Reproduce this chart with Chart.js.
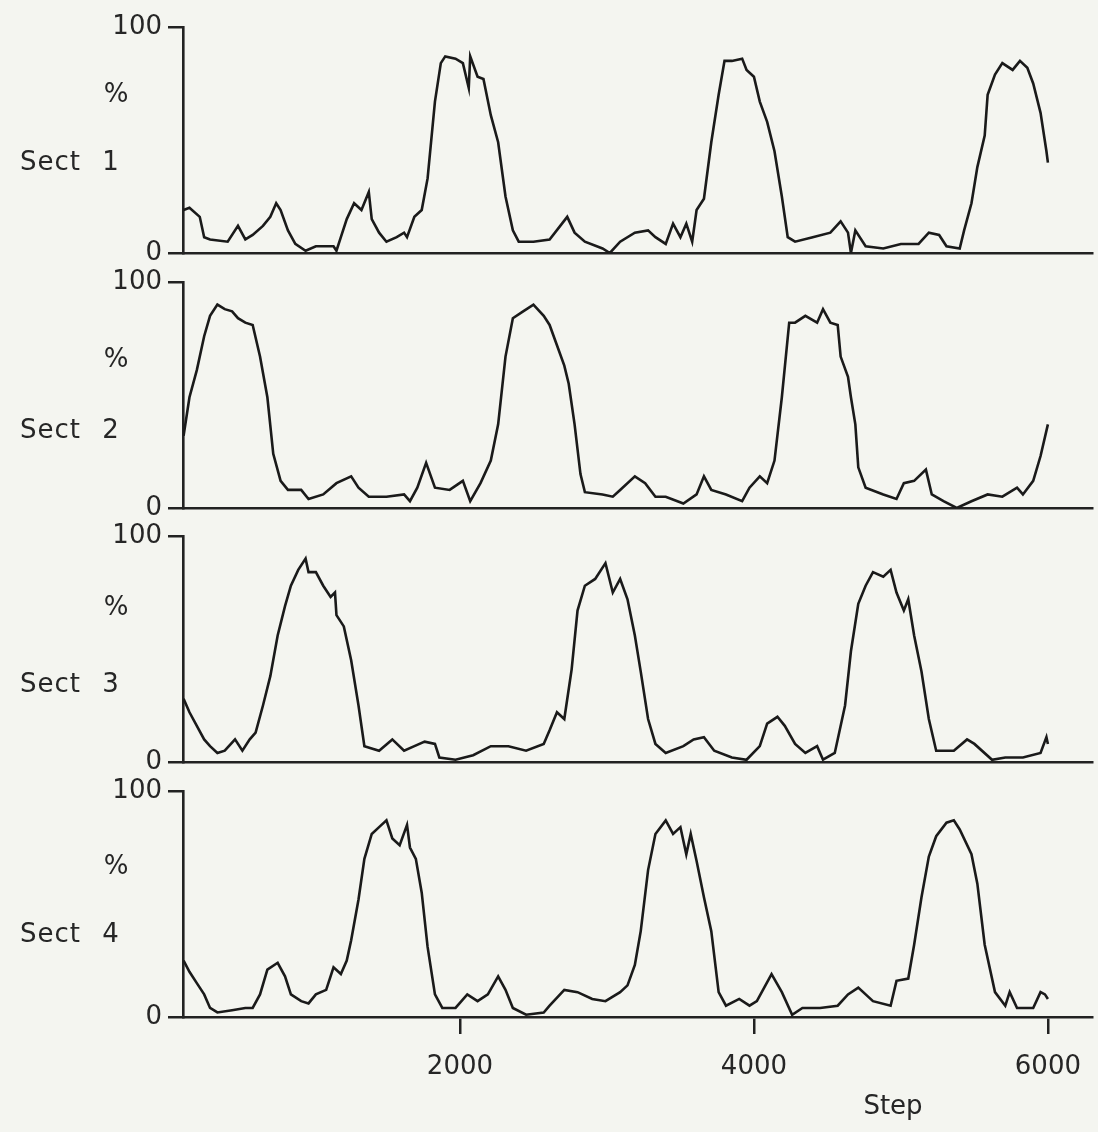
<!DOCTYPE html>
<html>
<head>
<meta charset="utf-8">
<script src="https://cdn.jsdelivr.net/npm/chart.js@4"></script>
<style>
  html, body { margin: 0; padding: 0; background: #f4f5f0; }
  #wrap { position: relative; width: 1098px; height: 1132px; overflow: hidden; background: #f4f5f0; }
  canvas { position: absolute; left: 0; }
  .lbl { position: absolute; font-family: "DejaVu Sans", sans-serif; font-size: 26px; color: #262626; line-height: 1; white-space: nowrap; }
</style>
</head>
<body>
<div id="wrap">
  <canvas id="c1"></canvas>
  <canvas id="c2"></canvas>
  <canvas id="c3"></canvas>
  <canvas id="c4"></canvas>
</div>
<script>
// ---- Data ----
const panelNames = ["Sect 1", "Sect 2", "Sect 3", "Sect 4"];
const yUnit = "%";
const xTitle = "Step";
const xTickValues = [2000, 4000, 6000];
const yTickValues = [0, 100];

const sect1Steps = [120,160,230,260,300,420,490,540,590,660,710,750,780,830,880,950,1020,1140,1160,1190,1230,1280,1330,1380,1400,1450,1500,1570,1620,1640,1690,1740,1780,1830,1870,1900,1970,2020,2060,2070,2120,2160,2210,2260,2310,2360,2400,2500,2610,2730,2780,2850,2970,3020,3090,3190,3280,3330,3400,3450,3500,3540,3580,3610,3660,3710,3760,3800,3850,3920,3950,4000,4040,4090,4140,4190,4230,4280,4400,4520,4590,4640,4660,4690,4760,4880,5000,5120,5190,5260,5310,5400,5430,5480,5520,5570,5590,5640,5690,5760,5810,5860,5900,5950,5990,6000];
const sect1Values = [19,20,16,7,6,5,12,6,8,12,16,22,19,10,4,1,3,3,1,7,15,22,19,27,15,9,5,7,9,7,16,19,33,67,84,87,86,84,73,87,78,77,61,49,25,10,5,5,6,16,9,5,2,0,5,9,10,7,4,13,7,13,5,19,24,49,70,85,85,86,81,78,67,58,45,25,7,5,7,9,14,9,0,10,3,2,4,4,9,8,3,2,10,22,38,52,70,79,84,81,85,82,75,62,45,40];

const sect2Steps = [120,160,210,260,300,350,400,450,490,540,590,640,690,730,780,830,920,970,1070,1160,1260,1310,1380,1500,1620,1660,1710,1770,1830,1930,2020,2070,2140,2210,2260,2310,2360,2430,2500,2570,2610,2660,2710,2740,2780,2820,2850,2970,3040,3090,3190,3260,3330,3400,3520,3610,3660,3710,3810,3920,3970,4040,4090,4140,4190,4240,4280,4350,4430,4470,4520,4570,4590,4640,4660,4690,4710,4760,4880,4970,5020,5090,5170,5210,5290,5380,5480,5590,5690,5790,5830,5900,5950,6000];
const sect2Values = [32,49,61,76,85,90,88,87,84,82,81,67,49,24,12,8,8,4,6,11,14,9,5,5,6,3,9,20,9,8,12,3,11,21,37,67,84,87,90,85,81,72,63,55,37,15,7,6,5,8,14,11,5,5,2,6,14,8,6,3,9,14,11,21,49,82,82,85,82,88,82,81,67,58,49,37,18,9,6,4,11,12,17,6,3,0,3,6,5,9,6,12,23,37];

const sect3Steps = [120,160,210,260,300,350,400,470,520,570,610,660,710,760,810,850,900,950,970,1020,1070,1120,1150,1160,1210,1260,1310,1350,1450,1540,1620,1690,1760,1830,1860,1970,2090,2210,2330,2450,2570,2610,2660,2710,2760,2800,2850,2920,2990,3040,3090,3140,3190,3230,3280,3330,3400,3520,3590,3660,3730,3850,3950,4040,4090,4160,4210,4280,4350,4430,4470,4550,4620,4660,4710,4760,4810,4880,4930,4970,5020,5050,5090,5140,5190,5240,5360,5450,5500,5620,5710,5830,5950,5990,6000];
const sect3Values = [28,22,16,10,7,4,5,10,5,10,13,25,38,56,69,78,85,90,84,84,78,73,75,65,60,45,25,7,5,10,5,7,9,8,2,1,3,7,7,5,8,14,22,19,41,67,78,81,88,75,81,72,56,40,19,8,4,7,10,11,5,2,1,7,17,20,16,8,4,7,1,4,25,49,70,78,84,82,85,75,67,72,56,40,19,5,5,10,8,1,2,2,4,11,8];

const sect4Steps = [120,160,210,260,300,350,450,540,590,640,690,760,810,850,920,970,1020,1090,1140,1190,1230,1260,1310,1350,1400,1450,1500,1540,1590,1640,1660,1700,1740,1780,1830,1880,1970,2050,2120,2190,2260,2310,2360,2450,2570,2610,2710,2800,2900,2990,3090,3140,3190,3230,3280,3330,3400,3450,3500,3540,3570,3610,3660,3710,3760,3810,3900,3970,4020,4070,4120,4190,4260,4330,4450,4570,4640,4710,4810,4930,4970,5050,5090,5140,5190,5240,5310,5360,5400,5480,5520,5570,5640,5710,5740,5790,5900,5950,5980,6000];
const sect4Values = [25,20,15,10,4,2,3,4,4,10,21,24,18,10,7,6,10,12,22,19,25,34,52,70,81,84,87,79,76,85,75,70,55,31,10,4,4,10,7,10,18,12,4,1,2,5,12,11,8,7,11,14,23,38,65,81,87,81,84,72,81,69,53,38,11,5,8,5,7,13,19,11,1,4,4,5,10,13,7,5,16,17,32,53,71,80,86,87,83,72,59,32,11,5,11,4,4,11,10,8];

const panels = [
  { steps: sect1Steps, values: sect1Values },
  { steps: sect2Steps, values: sect2Values },
  { steps: sect3Steps, values: sect3Values },
  { steps: sect4Steps, values: sect4Values }
];

// ---- Layout ----
const W = 1098, H = 1132;
const plotTop = [27, 282, 536, 791];
const plotBottom = [253, 508, 762, 1017];
const axisLeft = 183, axisRight = 1092;
const xMin = 116, xMax = 6300;
const padTop = 20;
const INK = '#222222';
const TXT = '#262626';
const FONT = "'DejaVu Sans', sans-serif";

Chart.defaults.font.family = FONT;
Chart.defaults.color = TXT;

panels.forEach((p, k) => {
  const last = k === panels.length - 1;
  const cv = document.getElementById('c' + (k + 1));
  const top = plotTop[k] - padTop;
  const plotH = plotBottom[k] - plotTop[k];
  const xAxisH = last ? (H - plotBottom[k]) : 12;
  const ch = padTop + plotH + xAxisH;
  cv.width = W; cv.height = ch;
  cv.style.width = W + 'px'; cv.style.height = ch + 'px';
  cv.style.top = top + 'px';

  new Chart(cv, {
    type: 'line',
    data: {
      datasets: [{
        data: p.steps.map((s, i) => ({ x: s, y: p.values[i] })),
        borderColor: '#1a1a1a',
        borderWidth: 2.6,
        borderJoinStyle: 'miter',
        pointRadius: 0,
        tension: 0,
        fill: false
      }]
    },
    options: {
      responsive: false,
      animation: false,
      devicePixelRatio: 1,
      layout: { padding: { top: padTop, right: W - axisRight, left: 0, bottom: 0 } },
      plugins: { legend: { display: false }, tooltip: { enabled: false }, title: { display: false } },
      scales: {
        x: {
          type: 'linear',
          min: xMin, max: xMax,
          afterFit: (s) => { s.height = xAxisH; s.paddingLeft = 0; s.paddingRight = 0; },
          afterBuildTicks: (s) => { s.ticks = xTickValues.map(v => ({ value: v })); },
          grid: { display: last, drawOnChartArea: false, drawTicks: true, tickLength: 17, color: INK, lineWidth: 2.5 },
          border: { display: true, color: INK, width: 2.6 },
          ticks: { display: last, font: { size: 26, family: FONT }, color: TXT, padding: 18, maxRotation: 0, autoSkip: false,
                   callback: (v) => String(v) }
        },
        y: {
          type: 'linear',
          min: 0, max: 100,
          afterFit: (s) => { s.width = axisLeft; s.paddingTop = 0; s.paddingBottom = 0; },
          afterBuildTicks: (s) => { s.ticks = yTickValues.map(v => ({ value: v })); },
          grid: { display: true, drawOnChartArea: false, drawTicks: true, tickLength: 15, color: INK, lineWidth: 2.5 },
          border: { display: true, color: INK, width: 2.6 },
          ticks: { font: { size: 26, family: FONT }, color: TXT, padding: 6, callback: (v) => String(v) }
        }
      }
    }
  });
});

// ---- Extra text labels ----
const wrap = document.getElementById('wrap');
function addLabel(text, x, y, anchor) {
  const d = document.createElement('div');
  d.className = 'lbl';
  d.textContent = text;
  d.style.left = x + 'px';
  d.style.top = y + 'px';
  d.style.transform = anchor === 'left' ? 'translateY(-50%)' : 'translate(-50%,-50%)';
  wrap.appendChild(d);
  return d;
}
const pctY = [93, 358, 606, 865];
const sectY = [161, 429, 683, 933];
panelNames.forEach((name, k) => {
  addLabel(yUnit, 116, pctY[k], 'center');
  const s = addLabel(name, 20, sectY[k], 'left');
  s.style.wordSpacing = '12px';
  s.style.letterSpacing = '1px';
});
addLabel(xTitle, 893, 1105, 'center');
</script>
</body>
</html>
